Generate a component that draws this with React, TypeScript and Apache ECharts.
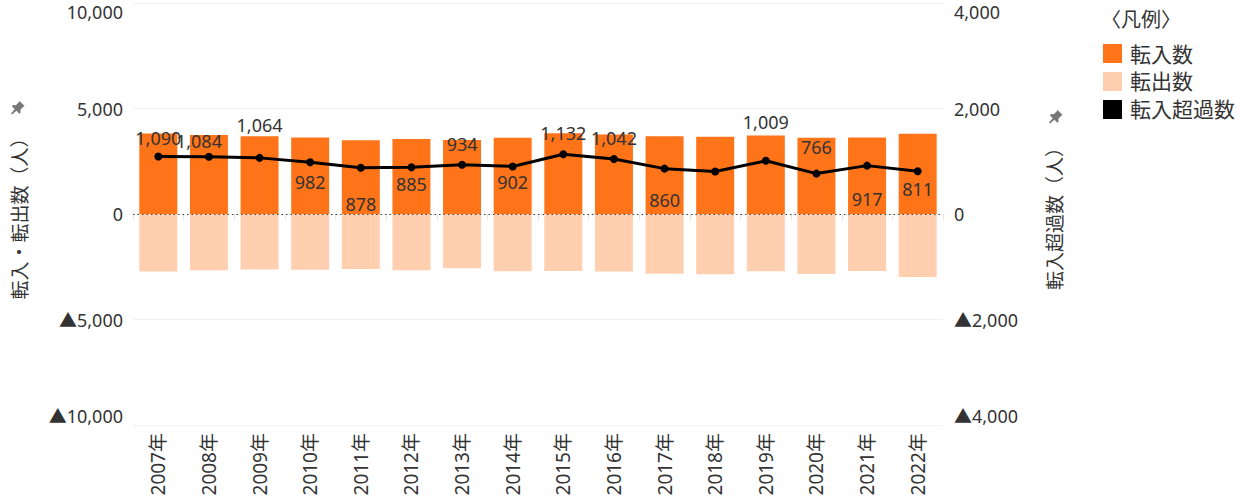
import React, { useEffect, useRef } from "react";
import * as echarts from "echarts";

const categories = ["2007年","2008年","2009年","2010年","2011年","2012年","2013年","2014年","2015年","2016年","2017年","2018年","2019年","2020年","2021年","2022年"];
const inflow = [3810,3745,3690,3620,3490,3550,3510,3610,3830,3770,3690,3660,3720,3610,3620,3800];
const outflow = [-2720,-2661,-2626,-2638,-2612,-2665,-2576,-2708,-2698,-2728,-2830,-2855,-2711,-2844,-2703,-2989];
const net = [1090,1084,1064,982,878,885,934,902,1132,1042,860,805,1009,766,917,811];
const showNetLabel = [true,true,true,true,true,true,true,true,true,true,true,false,true,true,true,true];

// label layout (offset of label centre from point), not data
const labelOffsets: [number, number][] = [
  [0,-19],[-10,-16],[0,-33],[0,20],[0,36],[0,17],[0,-21],[0,16],
  [0,-21],[0,-21],[0,31],[0,0],[0,-39],[0,-27],[0,33],[0,18],
];

const FONT = "'Noto Sans', 'Noto Sans CJK JP', sans-serif";
const fmt = (v: number) => (v < 0 ? "▲" : "") + Math.abs(v).toLocaleString("en-US");

const pinPath = "M10 0 L16 6 L14.5 6.8 L11 10.3 L11.3 13.5 L9.8 15 L6.4 11.6 L1.2 16 L0 14.8 L4.4 9.6 L1 6.2 L2.5 4.7 L5.7 5 L9.2 1.5 Z";
echarts.graphic.registerShape("pin", (echarts.graphic as any).extendPath(pinPath, {}));

export default function App() {
  const ref = useRef<HTMLDivElement>(null);
  useEffect(() => {
    document.body.style.margin = "0";
    const chart = echarts.init(ref.current!, null, { renderer: "svg" });
    chart.setOption({
      animation: false,
      textStyle: { fontFamily: FONT },
      grid: { left: 133, right: 305, top: 3, bottom: 77 },
      legend: {
        orient: "vertical",
        left: 1098,
        top: 38,
        itemWidth: 19,
        itemHeight: 19,
        itemGap: 7,
        icon: "rect",
        textStyle: { fontSize: 21, color: "#333", fontFamily: FONT, padding: [0, 0, 0, 3] },
        data: ["転入数", "転出数", "転入超過数"],
        selectedMode: false,
      },
      graphic: [
        { type: "text", left: 1101, top: 9, style: { text: "〈凡例〉", fontSize: 20, fill: "#333", fontFamily: FONT } },
        { type: "pin", x: 11, y: 101, scaleX: 0.85, scaleY: 0.85, style: { fill: "#777" } },
        { type: "pin", x: 1049, y: 110, scaleX: 0.85, scaleY: 0.85, style: { fill: "#777" } },
      ],
      xAxis: {
        type: "category",
        data: categories,
        axisLine: { show: false },
        axisTick: { show: true, lineStyle: { color: "#e6e6e6" }, length: 6 },
        axisLabel: { rotate: 90, fontSize: 19, color: "#333", margin: 8, fontFamily: FONT },
      },
      yAxis: [
        {
          type: "value",
          min: -10000,
          max: 10000,
          interval: 5000,
          name: "転入・転出数（人）",
          nameLocation: "middle",
          nameRotate: 90,
          nameGap: 104,
          nameTextStyle: { fontSize: 19, color: "#333", fontFamily: FONT },
          axisLine: { show: false },
          axisTick: { show: false },
          splitLine: { lineStyle: { color: "#f0f0f0" } },
          axisLabel: {
            fontSize: 18,
            color: "#333",
            margin: 10,
            formatter: (v: number) => fmt(v),
            verticalAlignMaxLabel: "top",
            verticalAlignMinLabel: "bottom",
          },
        },
        {
          type: "value",
          min: -4000,
          max: 4000,
          interval: 2000,
          name: "転入超過数（人）",
          nameLocation: "middle",
          nameRotate: 90,
          nameGap: 102,
          nameTextStyle: { fontSize: 19, color: "#333", fontFamily: FONT },
          axisLine: { show: false },
          axisTick: { show: false },
          splitLine: { show: false },
          axisLabel: {
            fontSize: 18,
            color: "#333",
            margin: 11,
            formatter: (v: number) => fmt(v),
            verticalAlignMaxLabel: "top",
            verticalAlignMinLabel: "bottom",
          },
        },
      ],
      series: [
        {
          name: "zero",
          type: "line",
          data: [],
          z: 1,
          markLine: {
            silent: true,
            symbol: "none",
            label: { show: false },
            lineStyle: { color: "#444", type: [1.5, 3], width: 1.2 },
            data: [{ yAxis: 0 }],
          },
        },
        {
          name: "転入数",
          type: "bar",
          stack: "flow",
          barWidth: 38,
          z: 2,
          itemStyle: { color: "#FF7418" },
          data: inflow,
        },
        {
          name: "転出数",
          type: "bar",
          stack: "flow",
          barWidth: 38,
          z: 2,
          itemStyle: { color: "#FFCFB0" },
          data: outflow,
        },
        {
          name: "転入超過数",
          type: "line",
          yAxisIndex: 1,
          z: 5,
          symbol: "circle",
          symbolSize: 8,
          itemStyle: { color: "#000" },
          lineStyle: { color: "#000", width: 3 },
          data: net.map((v, i) => ({
            value: v,
            label: {
              show: showNetLabel[i],
              position: "inside",
              offset: labelOffsets[i],
              fontSize: 18,
              color: "#333",
              fontFamily: FONT,
              formatter: (p: any) => fmt(p.value),
            },
          })),
        },
      ],
    });
    return () => chart.dispose();
  }, []);
  return <div ref={ref} style={{ width: 1248, height: 502 }} />;
}
